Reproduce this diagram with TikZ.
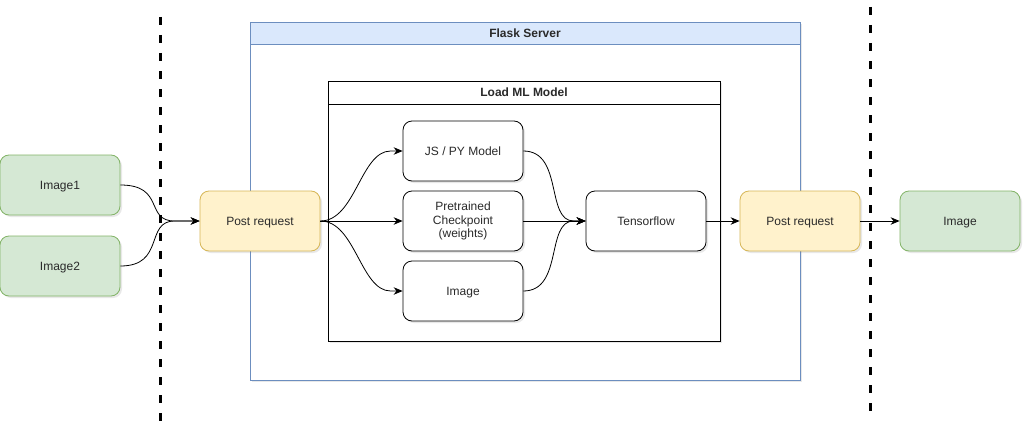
\documentclass[tikz,border=0pt]{standalone}
\usepackage{fontspec}
\setmainfont{Liberation Sans}
\usetikzlibrary{arrows.meta,shadows}
\definecolor{gfill}{HTML}{D5E8D4}
\definecolor{gline}{HTML}{82B366}
\definecolor{yfill}{HTML}{FFF2CC}
\definecolor{yline}{HTML}{D6B656}
\definecolor{bfill}{HTML}{DAE8FC}
\definecolor{bline}{HTML}{6C8EBF}
\definecolor{txt}{HTML}{2A2A2A}
\tikzset{
  shad/.style={drop shadow={opacity=0.18, shadow xshift=2pt, shadow yshift=-2pt}},
  box/.style={rectangle, rounded corners=9pt, draw, line width=0.8pt, minimum width=120pt, minimum height=60pt,
    inner sep=0pt, align=center, text=txt, font=\fontsize{12}{13.5}\selectfont, shad},
  oneline/.style={text height=10.9pt, text depth=2.5pt},
  greenbox/.style={box, oneline, fill=gfill, draw=gline},
  yellowbox/.style={box, oneline, fill=yfill, draw=yline},
  whitebox/.style={box, fill=white, draw=black},
  frame/.style={rectangle, draw, line width=0.8pt, inner sep=0pt, shad},
  header/.style={rectangle, draw, line width=0.8pt, inner sep=0pt, oneline, text=txt, font=\fontsize{12}{13.5}\selectfont\bfseries},
  conn/.style={line width=0.8pt, draw=black, -{Stealth[length=9pt,width=7.5pt]}},
  sep/.style={line width=3pt, dash pattern=on 8pt off 10pt, draw=black},
}
\begin{document}
\begin{tikzpicture}[x=1pt,y=-1pt]
\useasboundingbox (0,0) rectangle (1032,436);
% separators
\coordinate (d1t) at (160,17);
\coordinate (d1b) at (160,422);
\coordinate (d2t) at (870,7);
\coordinate (d2b) at (870,412);
% containers
\node[frame, draw=bline, fill=white, minimum width=550pt, minimum height=358pt] (flask) at (525,201) {};
\node[header, draw=bline, fill=bfill, minimum width=550pt, minimum height=22pt] (flaskh) at (525,33) {Flask Server};
\node[frame, draw=black, fill=white, minimum width=392pt, minimum height=260pt] (ml) at (524,211) {};
\node[header, draw=black, fill=white, minimum width=392pt, minimum height=23pt] (mlh) at (524,92.5) {Load ML Model};
\draw[sep] (d1t) -- (d1b);
\draw[sep] (d2t) -- (d2b);
% nodes
\node[greenbox] (img1) at (60,185) {Image1};
\node[greenbox] (img2) at (60,266) {Image2};
\node[yellowbox] (pr1) at (260,221) {Post request};
\node[whitebox, oneline] (js) at (463,151) {JS / PY Model};
\node[whitebox] (ck) at (463,221) {Pretrained\\Checkpoint\\(weights)};
\node[whitebox, oneline] (im) at (463,291) {Image};
\node[whitebox, oneline] (tf) at (646,221) {Tensorflow};
\node[yellowbox] (pr2) at (800,221) {Post request};
\node[greenbox] (out) at (960,221) {Image};
% connectors
\draw[conn] (img1.east) .. controls +(45,0) and +(-30,0) .. ([xshift=-25pt]pr1.west) -- (pr1.west);
\draw[conn] (img2.east) .. controls +(45,0) and +(-30,0) .. ([xshift=-25pt]pr1.west) -- (pr1.west);
\draw[conn] (pr1.east) .. controls +(35,0) and +(-30,0) .. ([xshift=-12pt]js.west) -- (js.west);
\draw[conn] (pr1.east) -- (ck.west);
\draw[conn] (pr1.east) .. controls +(35,0) and +(-30,0) .. ([xshift=-12pt]im.west) -- (im.west);
\draw[conn] (js.east) .. controls +(40,0) and +(-28,0) .. ([xshift=-12pt]tf.west) -- (tf.west);
\draw[conn] (ck.east) -- (tf.west);
\draw[conn] (im.east) .. controls +(40,0) and +(-28,0) .. ([xshift=-12pt]tf.west) -- (tf.west);
\draw[conn] (tf.east) -- (pr2.west);
\draw[conn] (pr2.east) -- (out.west);
\end{tikzpicture}
\end{document}
